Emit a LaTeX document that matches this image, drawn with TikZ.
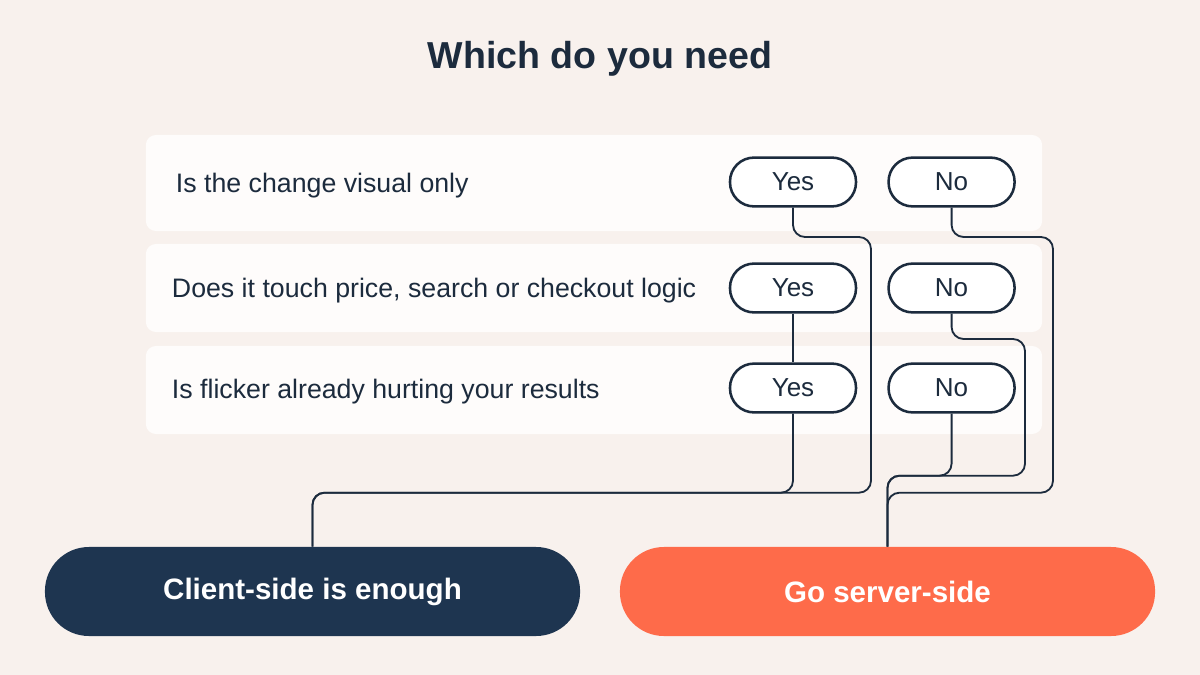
\documentclass[tikz,border=0pt]{standalone}
\usepackage{fontspec}
\setmainfont{Liberation Sans}
\usetikzlibrary{positioning}
\definecolor{bgpaper}{HTML}{F8F1ED}
\definecolor{rowfill}{HTML}{FEFCFB}
\definecolor{ink}{HTML}{1C2B3D}
\definecolor{navy}{HTML}{1E3550}
\definecolor{coral}{HTML}{FE6B4A}

\begin{document}
\begin{tikzpicture}[x=0.025cm, y=-0.025cm,
  row/.style={fill=rowfill, rounded corners=0.25cm, minimum width=22.4cm, minimum height=2.2cm},
  ask/.style={anchor=west, text=ink, font=\fontsize{19}{22}\selectfont},
  pill/.style={draw=ink, line width=1.8pt, fill=white, rounded corners=0.6cm, minimum width=3.15cm, minimum height=1.22cm, text=ink, font=\fontsize{18.5}{22}\selectfont},
  endbox/.style={rounded corners=1.1cm, minimum width=13.375cm, minimum height=2.225cm, text=white, font=\bfseries\fontsize{21}{25}\selectfont},
  link/.style={draw=ink, line width=1.3pt, rounded corners=0.3cm}]
  \fill[bgpaper] (0,0) rectangle (1200,675);
  \node[text=ink, font=\bfseries\fontsize{26.7}{31}\selectfont] (title) at (600,59) {Which do you need};
  % question rows
  \node[row, minimum height=2.4cm] (r1) at (594,183) {};
  \node[row] (r2) at (594,288) {};
  \node[row] (r3) at (594,390) {};
  \node[ask] (q1) at (171,186) {Is the change visual only};
  \node[ask] (q2) at (167,291) {Does it touch price, search or checkout logic};
  \node[ask] (q3) at (167,392) {Is flicker already hurting your results};
  % answers
  \node[pill] (yes1) at (793,182) {Yes};
  \node[pill, right=0.75cm of yes1] (no1) {No};
  \node[pill] (yes2) at (793,288) {Yes};
  \node[pill, right=0.75cm of yes2] (no2) {No};
  \node[pill] (yes3) at (793,388) {Yes};
  \node[pill, right=0.75cm of yes3] (no3) {No};
  % outcomes
  \node[endbox, fill=navy] (client) at (312.5,591.5) {Client-side is enough};
  \node[endbox, fill=coral] (server) at (887.5,591.5) {Go server-side};
  \path (client.north) ++(0,-54) coordinate (cbus);
  \path (server.north) ++(0,-54) coordinate (sbus);
  \path (server.north) ++(0,-71) coordinate (sbus2);
  % connectors
  \draw[link] (yes1.south) |- (871,237) |- (cbus) -- (client.north);
  \draw[link] (yes2) -- (yes3);
  \draw[link] (yes3.south) |- (cbus) -- (client.north);
  \draw[link] (no1.south) |- (1053,237) |- (sbus) -- (server.north);
  \draw[link] (no2.south) |- (1025,339) |- (sbus2) -- (server.north);
  \draw[link] (no3.south) |- (sbus2) -- (server.north);
\end{tikzpicture}
\end{document}
